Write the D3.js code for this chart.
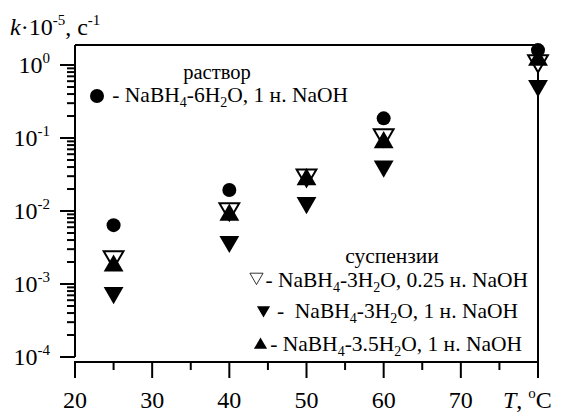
<!DOCTYPE html>
<html><head><meta charset="utf-8">
<script src="https://cdn.jsdelivr.net/npm/d3@7"></script>
<style>
body{margin:0;background:#fff;}
text{font-family:"Liberation Serif","Times New Roman","DejaVu Serif",serif;}
</style></head>
<body><svg id="c" width="562" height="412"></svg>
<script>
// ---- data ----
const temperatures = [25, 40, 50, 60, 80];
const solution6H2O_1N = [0.0064, 0.0194, null, 0.186, 1.6];   // circles
const susp3H2O_025N = [0.00235, 0.0107, 0.031, 0.11, 1.14];    // open down triangles
const susp3H2O_1N = [0.00076, 0.0038, 0.013, 0.041, 0.52];     // filled down triangles
const susp35H2O_1N = [0.00177, 0.0088, 0.027, 0.087, 1.17];    // filled up triangles
const xTicksMajor = [20, 30, 40, 50, 60, 70, 80];
const xTickLabels = [20, 30, 40, 50, 60, 70];
const xTicksMinor = [25, 35, 45, 55, 65, 75];
const yTickExponents = [0, -1, -2, -3, -4];
const legendSolutionTitle = "раствор";
const legendSuspTitle = "суспензии";

const FONT = "Liberation Serif, Times New Roman, DejaVu Serif, serif";
const svg = d3.select("#c").attr("font-family", FONT);
const x = d3.scaleLinear().domain([20, 80]).range([75, 538]);
const y = d3.scaleLog().domain([1e-4, 1.88]).range([357, 45]);
const FS = 24;
const X0 = x.domain()[0], X1 = x.domain()[1];

// frame
const g = svg.append("g").attr("stroke", "#000").attr("stroke-width", 2).attr("fill", "none");
g.append("line").attr("x1", x(X0)).attr("x2", x(X0)).attr("y1", y(1.88)).attr("y2", y(1e-4));
g.append("line").attr("x1", x(X0)).attr("x2", x(X1)).attr("y1", y(1.88)).attr("y2", y(1.88));
g.append("line").attr("x1", x(X1)).attr("x2", x(X1)).attr("y1", y(1.88)).attr("y2", 362);
g.append("line").attr("x1", x(X0) - 1).attr("x2", x(X1) + 1).attr("y1", 362).attr("y2", 362);

// y ticks
const yMinor = [];
for (let e = -4; e < 0; e++) for (let m = 2; m <= 9; m++) yMinor.push(m * Math.pow(10, e));
yTickExponents.forEach(e => {
  g.append("line").attr("x1", 60).attr("x2", x(X0)).attr("y1", y(Math.pow(10, e))).attr("y2", y(Math.pow(10, e)));
});
yMinor.forEach(v => {
  g.append("line").attr("x1", 67).attr("x2", x(X0)).attr("y1", y(v)).attr("y2", y(v));
});
// x ticks
xTicksMajor.forEach(v => {
  g.append("line").attr("x1", x(v)).attr("x2", x(v)).attr("y1", 362).attr("y2", 378);
});
xTicksMinor.forEach(v => {
  g.append("line").attr("x1", x(v)).attr("x2", x(v)).attr("y1", 362).attr("y2", 370);
});

function txt(xp, yp, size, anchor) {
  return svg.append("text").attr("x", xp).attr("y", yp).attr("font-size", size)
    .attr("text-anchor", anchor || "start").attr("font-family", FONT);
}

// y tick labels
yTickExponents.forEach(e => {
  const t = txt(50, y(Math.pow(10, e)) + 8, FS, "end");
  t.append("tspan").text("10");
  t.append("tspan").attr("font-size", 15).attr("dy", -10).text(e === 0 ? "0" : "-" + (-e));
});
// x tick labels
xTickLabels.forEach(v => { txt(x(v), 408, FS, "middle").text(v); });
// x axis title
{
  const t = txt(503, 408, FS);
  t.append("tspan").attr("font-style", "italic").text("T");
  t.append("tspan").text(", ");
  t.append("tspan").attr("font-size", 15).attr("dy", -10).text("o");
  t.append("tspan").attr("dy", 10).text("C");
}
// y axis title
{
  const t = txt(10, 35, FS);
  t.append("tspan").attr("font-style", "italic").text("k");
  t.append("tspan").text("·10");
  t.append("tspan").attr("font-size", 15).attr("dy", -10).text("-5");
  t.append("tspan").attr("dy", 10).text(", c");
  t.append("tspan").attr("font-size", 15).attr("dy", -10).text("-1");
}

// markers
const triUp = d3.symbol().type(d3.symbolTriangle).size(170);
const triUpSmall = d3.symbol().type(d3.symbolTriangle).size(75);
function pts(arr) { return temperatures.map((t, i) => ({t, v: arr[i]})).filter(d => d.v != null); }

svg.append("g").selectAll("path").data(pts(susp3H2O_025N)).join("path")
  .attr("d", triUp).attr("transform", d => `translate(${x(d.t)},${y(d.v)}) rotate(180)`)
  .attr("fill", "#fff").attr("stroke", "#000").attr("stroke-width", 2);
svg.append("g").selectAll("path").data(pts(susp35H2O_1N)).join("path")
  .attr("d", triUp).attr("transform", d => `translate(${x(d.t)},${y(d.v)})`).attr("fill", "#000");
svg.append("g").selectAll("path").data(pts(susp3H2O_1N)).join("path")
  .attr("d", triUp).attr("transform", d => `translate(${x(d.t)},${y(d.v)}) rotate(180)`).attr("fill", "#000");
svg.append("g").selectAll("circle").data(pts(solution6H2O_1N)).join("circle")
  .attr("cx", d => x(d.t)).attr("cy", d => y(d.v)).attr("r", 7).attr("fill", "#000");

// legend
const LFS = 21.5, SUB = 14;
function formula(sel, parts) {
  parts.forEach(p => {
    if (p[1] === "sub") sel.append("tspan").attr("font-size", SUB).attr("dy", 5).text(p[0]);
    else sel.append("tspan").attr("dy", p[2] || 0).text(p[0]);
  });
}
txt(217, 79, 20.5, "middle").text(legendSolutionTitle);
svg.append("circle").attr("cx", 97).attr("cy", 96).attr("r", 7).attr("fill", "#000");
formula(txt(348, 102, LFS, "end"),
  [["- NaBH"], ["4", "sub"], ["-6H", "", -5], ["2", "sub"], ["O, 1 н. NaOH", "", -5]]);

txt(392, 263, LFS, "middle").text(legendSuspTitle);
svg.append("path").attr("d", triUpSmall).attr("transform", "translate(256.5,277) rotate(180)")
  .attr("fill", "none").attr("stroke", "#000").attr("stroke-width", 0.8);
formula(txt(528, 287, LFS, "end"),
  [["- NaBH"], ["4", "sub"], ["-3H", "", -5], ["2", "sub"], ["O, 0.25 н. NaOH", "", -5]]);
svg.append("path").attr("d", triUpSmall).attr("transform", "translate(263.5,310) rotate(180)").attr("fill", "#000");
formula(txt(518, 318, LFS, "end").attr("xml:space", "preserve"),
  [["-  NaBH"], ["4", "sub"], ["-3H", "", -5], ["2", "sub"], ["O, 1 н. NaOH", "", -5]]);
svg.append("path").attr("d", triUpSmall).attr("transform", "translate(260.5,345)").attr("fill", "#000");
formula(txt(522, 351, LFS, "end"),
  [["- NaBH"], ["4", "sub"], ["-3.5H", "", -5], ["2", "sub"], ["O, 1 н. NaOH", "", -5]]);
</script></body></html>
